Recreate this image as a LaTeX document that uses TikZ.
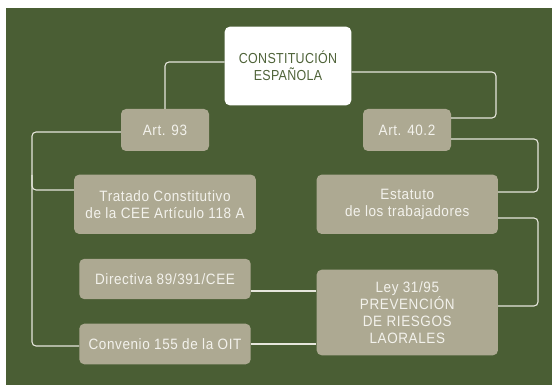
\documentclass[tikz,border=0pt]{standalone}
\usepackage{fontspec}
\setmainfont{Liberation Sans}
\newfontfamily\narrowfont[FakeStretch=0.9,LetterSpace=4]{Liberation Sans}
\newfontfamily\capsfont[FakeStretch=0.86,LetterSpace=2]{Liberation Sans}
\definecolor{bggreen}{HTML}{4A5E34}
\definecolor{boxfill}{HTML}{ADA992}
\definecolor{boxtext}{HTML}{F3F2EC}
\definecolor{darktext}{HTML}{4F6339}
\definecolor{linecol}{HTML}{E6E6DC}
\tikzset{
  box/.style={draw=none, fill=boxfill, rounded corners=5pt, inner sep=0pt, align=center,
    text=boxtext, font=\narrowfont\fontsize{15}{17}\selectfont},
  mainbox/.style={box, fill=white, text=darktext, font=\capsfont\fontsize{14.5}{17}\selectfont},
  conn/.style={draw=linecol, line width=1.1pt, rounded corners=4pt},
}
\begin{document}
\begin{tikzpicture}[x=1pt,y=-1pt]
\useasboundingbox (0,0) rectangle (552,385);
\fill[white] (0,0) rectangle (552,385);
\fill[bggreen] (6,8) rectangle (552,385);

\node[mainbox, minimum width=126.6pt, minimum height=78.6pt] (const) at (288,66) {CONSTITUCIÓN\\ESPAÑOLA};
\node[box, minimum width=88pt, minimum height=42pt] (art93) at (165,130) {Art. 93};
\node[box, minimum width=88pt, minimum height=42pt] (art40) at (407,130) {Art. 40.2};
\node[box, minimum width=181.7pt, minimum height=59.3pt] (tratado) at (165,204.3) {Tratado Constitutivo\\de la CEE Artículo 118 A};
\node[box, minimum width=181.3pt, minimum height=59.3pt] (estatuto) at (407.3,204.3) {Estatuto\\de los trabajadores};
\node[box, minimum width=171.4pt, minimum height=40.3pt] (directiva) at (165,279) {Directiva 89/391/CEE};
\node[box, minimum width=171.4pt, minimum height=40.6pt] (convenio) at (165,344) {Convenio 155 de la OIT};
\node[box, minimum width=181.3pt, minimum height=85.6pt] (ley) at (407.3,312.5) {Ley 31/95\\PREVENCIÓN\\DE RIESGOS\\LAORALES};

\draw[conn] (const.west |- 0,62) -- (165,62) -- (art93.north);
\draw[conn] (const.east |- 0,72) -- (496,72) -- (496,118) -- (art40.east |- 0,118);
\draw[conn] (art93.west |- 0,132) -- (32,132) -- (32,346) -- (convenio.west |- 0,346);
\draw[conn] (32,175) -- (32,190) -- (tratado.west |- 0,190);
\draw[conn] (art40.east |- 0,139) -- (538,139) -- (538,192) -- (estatuto.east |- 0,192);
\draw[conn] (estatuto.east |- 0,218) -- (538,218) -- (538,306) -- (ley.east |- 0,306);
\draw[conn] (directiva.east |- 0,291) -- (ley.west |- 0,291);
\draw[conn] (convenio.east |- 0,344) -- (ley.west |- 0,344);
\end{tikzpicture}
\end{document}
